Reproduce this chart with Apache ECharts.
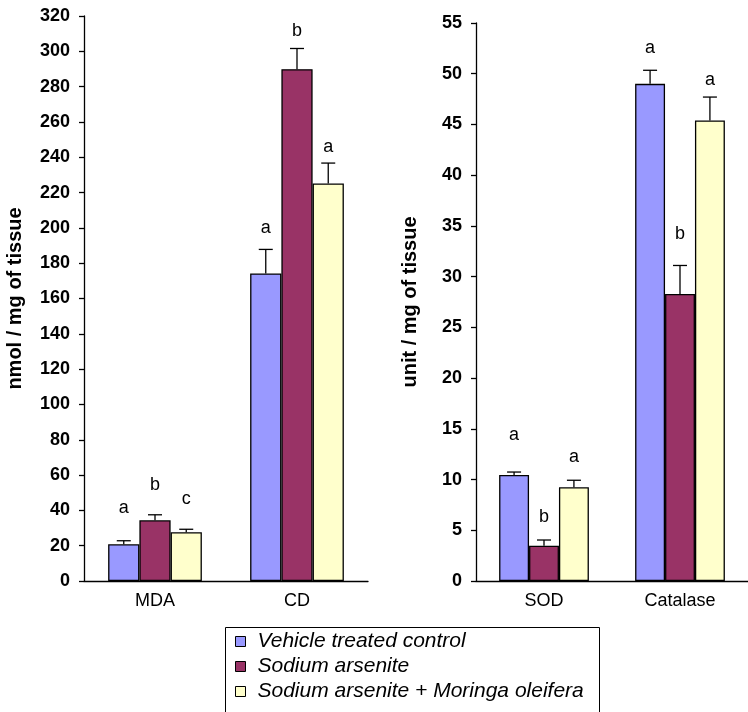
<!DOCTYPE html>
<html>
<head>
<meta charset="utf-8">
<script src="https://cdn.jsdelivr.net/npm/echarts@6/dist/echarts.min.js"></script>
<style>
  html, body { margin: 0; padding: 0; background: #fff; }
  #chart { width: 748px; height: 712px; }
</style>
</head>
<body>
<div id="chart"></div>
<script>
// categories
const catsLeft = ["MDA", "CD"];
const catsRight = ["SOD", "Catalase"];
const groupNames = ["Vehicle treated control", "Sodium arsenite", "Sodium arsenite + Moringa oleifera"];

// means (left panel: nmol / mg, right panel: unit / mg)
const vehicleLeft = [20.8, 174.2];
const arseniteLeft = [34.4, 289.9];
const moringaLeft = [27.6, 225.2];
const vehicleRight = [10.45, 49.0];
const arseniteRight = [3.48, 28.3];
const moringaRight = [9.24, 45.4];

// upper ends of error bars
const vehicleLeftErr = [22.8, 187.8];
const arseniteLeftErr = [37.5, 301.6];
const moringaLeftErr = [29.3, 236.7];
const vehicleRightErr = [10.74, 50.34];
const arseniteRightErr = [4.04, 31.1];
const moringaRightErr = [9.93, 47.7];

// significance letters and the level they sit at
const vehicleLeftLetters = ["a", "a"];
const arseniteLeftLetters = ["b", "b"];
const moringaLeftLetters = ["c", "a"];
const vehicleRightLetters = ["a", "a"];
const arseniteRightLetters = ["b", "b"];
const moringaRightLetters = ["a", "a"];
const vehicleLeftLetterAt = [41.3, 199.9];
const arseniteLeftLetterAt = [54.4, 311.4];
const moringaLeftLetterAt = [46.4, 245.8];
const vehicleRightLetterAt = [14.4, 52.5];
const arseniteRightLetterAt = [6.3, 34.2];
const moringaRightLetterAt = [12.25, 49.4];

const colors = ["#9999FF", "#993366", "#FFFFCC"];
const catGap = 0.34;
const font = "Liberation Sans";

function barSeries(name, data, axisIdx, color) {
  return {
    name: name,
    type: "bar",
    xAxisIndex: axisIdx,
    yAxisIndex: axisIdx,
    data: data,
    barGap: "0%",
    barCategoryGap: catGap * 100 + "%",
    itemStyle: { color: color, borderColor: "#000", borderWidth: 1.3 },
    emphasis: { disabled: true }
  };
}

function errSeries(means, errs, letters, letterAt, axisIdx, idx) {
  return {
    type: "custom",
    xAxisIndex: axisIdx,
    yAxisIndex: axisIdx,
    z: 5,
    silent: true,
    data: means.map((m, i) => [i, m, errs[i], letterAt[i]]),
    renderItem: function(params, api) {
      const cat = api.value(0);
      const catW = api.size([1, 0])[0];
      const barW = catW * (1 - catGap) / 3;
      const base = api.coord([cat, api.value(1)]);
      const x = base[0] + (idx - 1) * barW;
      const yTop = api.coord([cat, api.value(2)])[1];
      const yLetter = api.coord([cat, api.value(3)])[1];
      const st = { stroke: "#000", lineWidth: 1.3 };
      return {
        type: "group",
        children: [
          { type: "line", shape: { x1: x, y1: base[1], x2: x, y2: yTop }, style: st },
          { type: "line", shape: { x1: x - 7, y1: yTop, x2: x + 7, y2: yTop }, style: st },
          { type: "text", x: x, y: yLetter,
            style: { text: letters[params.dataIndex], fontFamily: font, fontSize: 18,
                     fill: "#000", align: "center", verticalAlign: "middle" } }
        ]
      };
    }
  };
}

function xAxisCfg(cats, idx) {
  return {
    type: "category",
    gridIndex: idx,
    data: cats,
    axisLine: { lineStyle: { color: "#000", width: 1.3 } },
    axisTick: { length: 6, lineStyle: { color: "#000", width: 1.3 } },
    axisLabel: { color: "#000", fontFamily: font, fontSize: 18, margin: 11 }
  };
}

function yAxisCfg(idx, max, interval, name, gap) {
  return {
    type: "value",
    gridIndex: idx,
    min: 0,
    max: max,
    interval: interval,
    name: name,
    nameLocation: "middle",
    nameGap: gap,
    nameTextStyle: { color: "#000", fontFamily: font, fontSize: 20, fontWeight: "bold" },
    splitLine: { show: false },
    axisLine: { show: true, lineStyle: { color: "#000", width: 1.3 } },
    axisTick: { show: true, length: 5, lineStyle: { color: "#000", width: 1.3 } },
    axisLabel: { color: "#000", fontFamily: font, fontSize: 18, fontWeight: "bold", margin: 14 }
  };
}

const chart = echarts.init(document.getElementById("chart"));
chart.setOption({
  animation: false,
  backgroundColor: "#fff",
  grid: [
    { left: 84, top: 16, width: 284, height: 565 },
    { left: 476, top: 23, width: 280, height: 558 }
  ],
  xAxis: [xAxisCfg(catsLeft, 0), xAxisCfg(catsRight, 1)],
  yAxis: [
    yAxisCfg(0, 320, 20, "nmol / mg of tissue", 59),
    yAxisCfg(1, 55, 5, "unit / mg of tissue", 56)
  ],
  // legend frame runs off the bottom edge like the original
  graphic: [{
    type: "rect",
    shape: { x: 225.5, y: 627.5, width: 374, height: 100 },
    style: { fill: "none", stroke: "#000", lineWidth: 1 },
    silent: true
  }],
  legend: {
    orient: "vertical",
    left: 225,
    top: 627,
    data: groupNames,
    icon: "rect",
    itemWidth: 10,
    itemHeight: 10,
    itemGap: 4,
    padding: [4, 7, 0, 10],
    selectedMode: false,
    itemStyle: { borderColor: "#000", borderWidth: 1 },
    textStyle: { color: "#000", fontFamily: font, fontSize: 21, lineHeight: 21,
                 fontStyle: "italic", padding: [0, 0, 0, 7] }
  },
  series: [
    barSeries(groupNames[0], vehicleLeft, 0, colors[0]),
    barSeries(groupNames[1], arseniteLeft, 0, colors[1]),
    barSeries(groupNames[2], moringaLeft, 0, colors[2]),
    barSeries(groupNames[0], vehicleRight, 1, colors[0]),
    barSeries(groupNames[1], arseniteRight, 1, colors[1]),
    barSeries(groupNames[2], moringaRight, 1, colors[2]),
    errSeries(vehicleLeft, vehicleLeftErr, vehicleLeftLetters, vehicleLeftLetterAt, 0, 0),
    errSeries(arseniteLeft, arseniteLeftErr, arseniteLeftLetters, arseniteLeftLetterAt, 0, 1),
    errSeries(moringaLeft, moringaLeftErr, moringaLeftLetters, moringaLeftLetterAt, 0, 2),
    errSeries(vehicleRight, vehicleRightErr, vehicleRightLetters, vehicleRightLetterAt, 1, 0),
    errSeries(arseniteRight, arseniteRightErr, arseniteRightLetters, arseniteRightLetterAt, 1, 1),
    errSeries(moringaRight, moringaRightErr, moringaRightLetters, moringaRightLetterAt, 1, 2)
  ]
});
</script>
</body>
</html>
